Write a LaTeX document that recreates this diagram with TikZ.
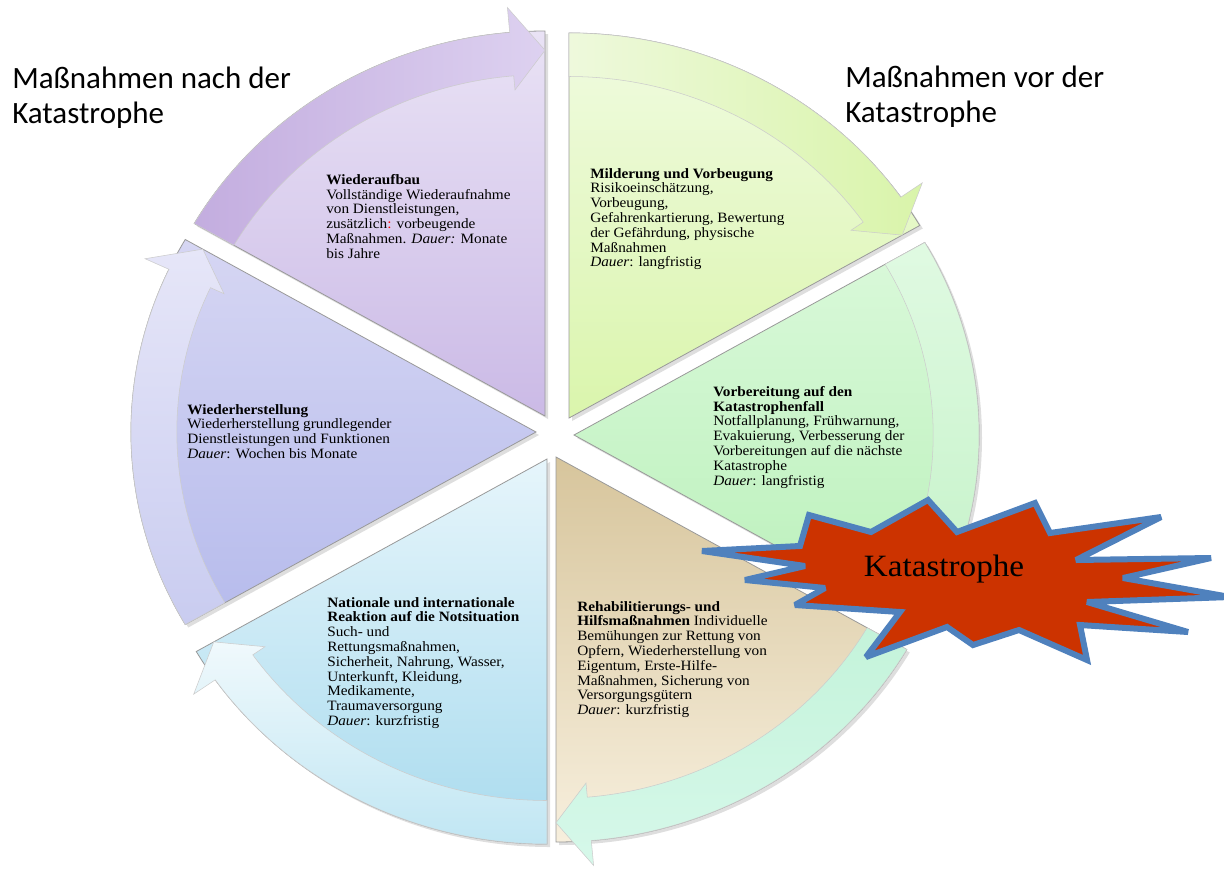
\documentclass[tikz,border=0pt]{standalone}
\usepackage{fontspec}
\setmainfont{Liberation Serif}[FakeStretch=1.07]
\newfontfamily\titlefont{Carlito}
\usetikzlibrary{calc}
\definecolor{pS1}{HTML}{E9E2F5}\definecolor{pS2}{HTML}{CBBAE6}
\definecolor{pB1}{HTML}{C3ADDF}\definecolor{pB2}{HTML}{DDD1F0}
\definecolor{gyS1}{HTML}{F0FBE0}\definecolor{gyS2}{HTML}{DAF5AC}
\definecolor{gyB1}{HTML}{EEF9DC}\definecolor{gyB2}{HTML}{D9F4AA}
\definecolor{gS1}{HTML}{DAF9DA}\definecolor{gS2}{HTML}{BAF0BA}
\definecolor{gB1}{HTML}{E0FAE2}\definecolor{gB2}{HTML}{C4F2C8}
\definecolor{tS1}{HTML}{D7C59C}\definecolor{tS2}{HTML}{F7EFDD}
\definecolor{tB1}{HTML}{C4F3DA}\definecolor{tB2}{HTML}{D6F8EA}
\definecolor{bS1}{HTML}{E6F5FB}\definecolor{bS2}{HTML}{A9DBEE}
\definecolor{bB1}{HTML}{F0F9FC}\definecolor{bB2}{HTML}{C0E6F3}
\definecolor{lS1}{HTML}{D6D6F3}\definecolor{lS2}{HTML}{B6BBEC}
\definecolor{lB1}{HTML}{E6E6F8}\definecolor{lB2}{HTML}{C9CCF0}
\definecolor{katred}{HTML}{CC3300}
\definecolor{starblue}{HTML}{4F81BD}
\tikzset{
  body/.style={font=\fontsize{10.7}{11.1}\selectfont, align=left, inner sep=0pt, anchor=north west, text=black},
  ttl/.style={font=\titlefont\fontsize{23.25}{26.25}\selectfont, align=left, inner sep=0pt, anchor=north west, text=black},
  slicebd/.style={draw=black!40, line width=0.6pt},
  bandbd/.style={draw=black!20, line width=0.4pt},
}
% #1 vx, #2 vy, #3 end angle, #4 start angle, #5 slice shading, #6 band shading
\newcommand\mkslice[6]{%
  \begin{scope}[shift={(#1,#2)}]
    \begin{scope}[shift={(3,3)}]
      \fill[black,opacity=0.13] (0,0) -- ({-(#4)}:405 and 385) arc[start angle={-(#4)}, end angle={-(#3)}, x radius=405, y radius=385] -- cycle;
    \end{scope}
    \path[#5, slicebd] (0,0) -- ({-(#4)}:405 and 385) arc[start angle={-(#4)}, end angle={-(#3)}, x radius=405, y radius=385] -- cycle;
    \path[#6, bandbd] ({-(#4)}:405 and 385) arc[start angle={-(#4)}, end angle={-(#3)-5}, x radius=405, y radius=385]
      -- ({-(#3)-5}:431.3 and 410) -- ({-(#3)}:384.75 and 365.75) -- ({-(#3)-5}:344.3 and 327.3)
      -- ({-(#3)-5}:359.2 and 341.5) arc[start angle={-(#3)-5}, end angle={-(#4)}, x radius=359.2, y radius=341.5] -- cycle;
  \end{scope}}
\begin{document}
\begin{tikzpicture}[x=0.75pt,y=-0.75pt]
\useasboundingbox[fill=white] (0,0) rectangle (1224,868);
% slices
\mkslice{545}{416}{90}{150}{top color=pS1,bottom color=pS2}{left color=pB1,right color=pB2}
\mkslice{569}{418}{30}{90}{top color=gyS1,bottom color=gyS2}{left color=gyB1,right color=gyB2}
\mkslice{574}{435}{-30}{30}{top color=gS1,bottom color=gS2}{top color=gB1,bottom color=gB2}
\mkslice{556}{457}{270}{330}{top color=tS1,bottom color=tS2}{top color=tB1,bottom color=tB2}
\mkslice{547}{459}{210}{270}{top color=bS1,bottom color=bS2}{top color=bB1,bottom color=bB2}
\mkslice{536}{432}{150}{210}{top color=lS1,bottom color=lS2}{top color=lB1,bottom color=lB2}
% star
\filldraw[fill=katred, draw=starblue, line width=4.5pt, line join=miter, miter limit=3]
 (702,551) -- (800,546) -- (809,515) -- (871,532) -- (928,500) -- (957,532) -- (1035,503) -- (1050,533)
 -- (1161,517) -- (1076,560) -- (1211,558) -- (1123,578) -- (1230,597) -- (1087,602) -- (1188,632)
 -- (1080,625) -- (1087,660) -- (1019,630) -- (973,645) -- (947,627) -- (866,657) -- (900,612)
 -- (795,605) -- (825,588) -- (745,580) -- (805,566) -- cycle;
\node[font=\fontsize{23.25}{26}\selectfont, inner sep=0pt] (kat) at (944,569) {Katastrophe};
% texts
\node[body] (wa) at (326,174) {\textbf{Wiederaufbau}\\Vollständige Wiederaufnahme\\von Dienstleistungen,\\zusätzlich{\color{red}:} vorbeugende\\Maßnahmen. \textit{Dauer:} Monate\\bis Jahre};
\node[body] (mv) at (590,168) {\textbf{Milderung und Vorbeugung}\\Risikoeinschätzung,\\Vorbeugung,\\Gefahrenkartierung, Bewertung\\der Gefährdung, physische\\Maßnahmen\\\textit{Dauer}: langfristig};
\node[body] (vk) at (713,386) {\textbf{Vorbereitung auf den}\\\textbf{Katastrophenfall}\\Notfallplanung, Frühwarnung,\\Evakuierung, Verbesserung der\\Vorbereitungen auf die nächste\\Katastrophe\\\textit{Dauer}: langfristig};
\node[body] (wh) at (187,404) {\textbf{Wiederherstellung}\\Wiederherstellung grundlegender\\Dienstleistungen und Funktionen\\\textit{Dauer}: Wochen bis Monate};
\node[body] (ni) at (327,597) {\textbf{Nationale und internationale}\\\textbf{Reaktion auf die Notsituation}\\Such- und\\Rettungsmaßnahmen,\\Sicherheit, Nahrung, Wasser,\\Unterkunft, Kleidung,\\Medikamente,\\Traumaversorgung\\\textit{Dauer}: kurzfristig};
\node[body] (rh) at (577,601) {\textbf{Rehabilitierungs- und}\\\textbf{Hilfsmaßnahmen} Individuelle\\Bemühungen zur Rettung von\\Opfern, Wiederherstellung von\\Eigentum, Erste-Hilfe-\\Maßnahmen, Sicherung von\\Versorgungsgütern\\\textit{Dauer}: kurzfristig};
% titles
\node[ttl] (tn) at (12,67) {Maßnahmen nach der\\Katastrophe};
\node[ttl] (tv) at (845,66) {Maßnahmen vor der\\Katastrophe};
\end{tikzpicture}
\end{document}
